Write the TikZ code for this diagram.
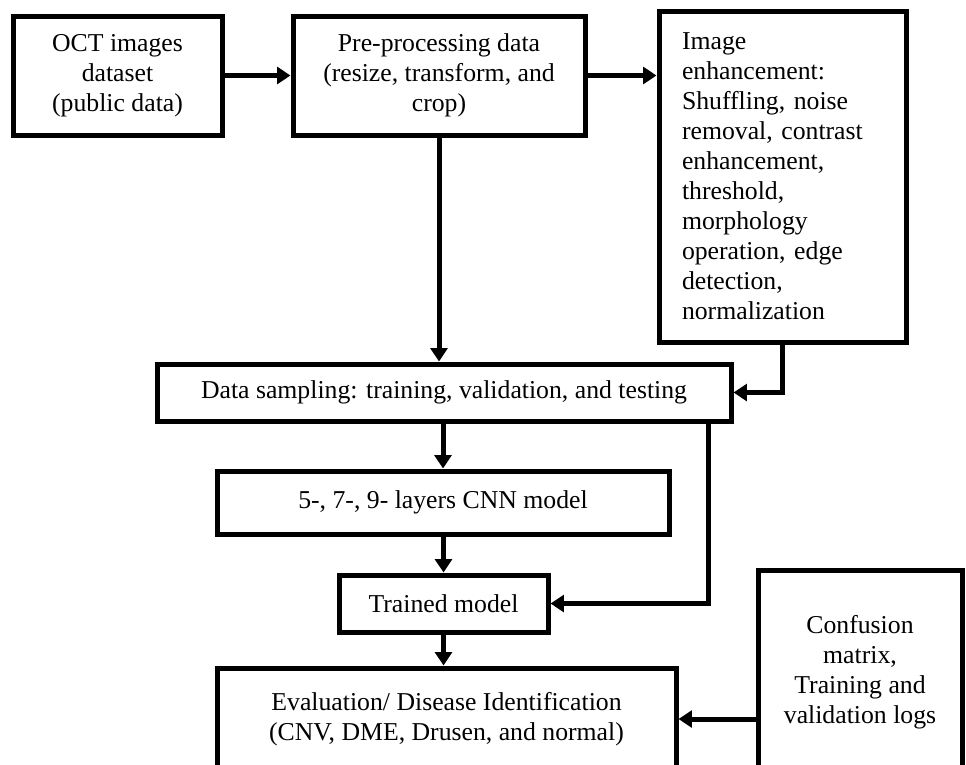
\documentclass[tikz,border=0pt]{standalone}
\usepackage{fontspec}
\setmainfont{Liberation Serif}
\usetikzlibrary{arrows.meta}
\begin{document}
\begin{tikzpicture}[x=0.75pt,y=-0.75pt,
  box/.style={draw, line width=3.75pt, inner sep=0pt, align=center,
    font=\fontsize{19.3}{22.5}\selectfont, fill=white},
  arr/.style={line width=3.75pt, -{Triangle[length=10pt,width=12.5pt]}}]
\useasboundingbox (0,0) rectangle (966,764);
\clip (0,0) rectangle (966,764);

\node[box, minimum width=156.75pt, minimum height=89.25pt] (oct) at (117.5,75.5)
  {OCT images\\dataset\\(public data)};
\node[box, minimum width=219pt, minimum height=89.25pt] (pre) at (439,75.5)
  {Pre-processing data\\(resize, transform, and\\crop)};
\node[box, minimum width=185.25pt, minimum height=248.25pt, text width=150.75pt, align=left] (enh) at (782.5,176.5)
  {Image\\enhancement:\\Shuffling, noise\\removal, contrast\\enhancement,\\threshold,\\morphology\\operation, edge\\detection,\\normalization};
\node[box, minimum width=430.5pt, minimum height=42.75pt] (samp) at (444,392.5)
  {Data sampling: training, validation, and testing};
\node[box, minimum width=339pt, minimum height=47.25pt] (cnn) at (443,502.5)
  {5-, 7-, 9- layers CNN model};
\node[box, minimum width=156.75pt, minimum height=42.75pt] (trn) at (443.5,603.5)
  {Trained model};
\node[box, minimum width=344.25pt, minimum height=76.5pt] (eval) at (446.5,719)
  {Evaluation/ Disease Identification\\(CNV, DME, Drusen, and normal)};
\node[box, minimum width=153pt, minimum height=153pt] (conf) at (860,672)
  {Confusion\\matrix,\\Training and\\validation logs};

\draw[arr] (oct.east) -- (pre.west);
\draw[arr] (pre.east) -- (pre.east -| enh.west);
\draw[arr] (pre.south) -- (pre.south |- samp.north);
\draw[arr] (enh.south) |- (samp.east);
\draw[arr] (cnn.north |- samp.south) -- (cnn.north);
\draw[arr] (trn.north |- cnn.south) -- (trn.north);
\draw[arr] (trn.south) -- (trn.south |- eval.north);
\draw[arr] ([xshift=-18.75pt]samp.south east) |- (trn.east);
\draw[arr] (conf.west |- eval.east) -- (eval.east);
\end{tikzpicture}
\end{document}
